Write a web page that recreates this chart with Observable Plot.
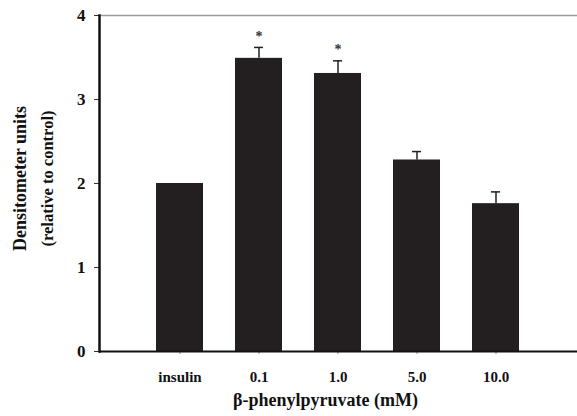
<!DOCTYPE html>
<html>
<head>
<meta charset="utf-8">
<script src="https://cdn.jsdelivr.net/npm/d3@7"></script>
<script src="https://cdn.jsdelivr.net/npm/@observablehq/plot@0.6"></script>
<style>
  html, body { margin: 0; padding: 0; background: #fff; }
  #chart svg { display: block; }
  #chart svg text { font-family: "Liberation Serif", "Times New Roman", serif; font-weight: bold; }
</style>
</head>
<body>
<div id="chart"></div>
<script>
const categories = ["insulin", "0.1", "1.0", "5.0", "10.0"];
const values = [2.0, 3.49, 3.31, 2.28, 1.76];
const errors = [0, 0.13, 0.15, 0.10, 0.14];
const significant = [false, true, true, false, false];
const yTicks = [0, 1, 2, 3, 4];
const yTitle = "Densitometer units";
const ySubtitle = "(relative to control)";
const xTitle = "β-phenylpyruvate (mM)";

const data = categories.map((c, i) => ({
  cat: c, value: values[i], err: errors[i], top: values[i] + errors[i], sig: significant[i]
}));
const withErr = data.filter(d => d.err > 0);
const font = '"Liberation Serif", "Times New Roman", serif';

const chart = Plot.plot({
  width: 577,
  height: 416,
  marginLeft: 99,
  marginRight: 0,
  marginTop: 15,
  marginBottom: 65,
  style: { fontFamily: font, fontSize: "15px", fontWeight: "bold", background: "#fff", color: "#111" },
  x: { domain: categories, paddingInner: 0.4, paddingOuter: 0.69 },
  y: { domain: [0, 4] },
  marks: [
    Plot.ruleY([4], { stroke: "#9a9a9a", strokeWidth: 1.5 }),
    Plot.barY(data, { x: "cat", y: "value", fill: "#231f20" }),
    Plot.ruleX(withErr, { x: "cat", y1: "value", y2: "top", stroke: "#231f20", strokeWidth: 1.5 }),
    Plot.tickY(withErr, { x: "cat", y: "top", stroke: "#231f20", strokeWidth: 1.5, insetLeft: 19, insetRight: 19 }),
    Plot.text(data.filter(d => d.sig), { x: "cat", y: "top", text: () => "*", dy: -11, fontSize: 14, fill: "#333" }),
    Plot.axisY({ ticks: yTicks, tickFormat: d3.format("d"), tickSize: 5, tickPadding: 9, fontSize: 17, label: null, stroke: "#333" }),
    Plot.axisX({ tickSize: 3, tickPadding: 17, fontSize: 15, label: null, stroke: "#888" }),
    Plot.ruleY([0], { stroke: "#111", strokeWidth: 2 }),
    Plot.frame({ anchor: "left", stroke: "#111", strokeWidth: 2.5 }),
    Plot.text([yTitle], { text: d => d, frameAnchor: "left", textAnchor: "middle", rotate: -90, dx: -79, dy: -5, fontSize: 18, fill: "#111" }),
    Plot.text([ySubtitle], { text: d => d, frameAnchor: "left", textAnchor: "middle", rotate: -90, dx: -52, dy: -5, fontSize: 16.5, fill: "#111" }),
    Plot.text([xTitle], { text: d => d, frameAnchor: "bottom", dx: -13, dy: 54, fontSize: 18, fill: "#111" })
  ]
});
document.getElementById("chart").appendChild(chart);
</script>
</body>
</html>
